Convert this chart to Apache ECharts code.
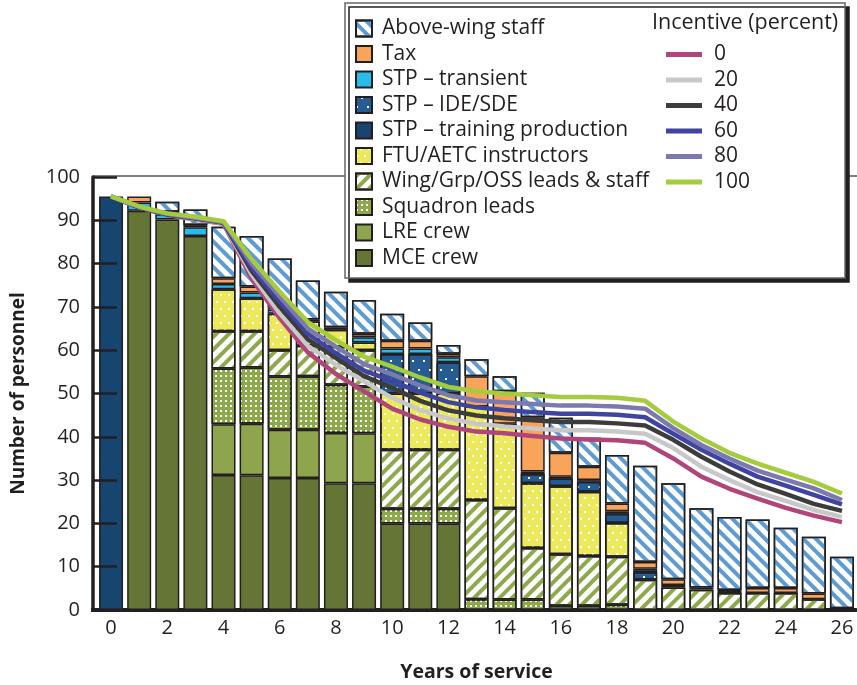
<!DOCTYPE html>
<html><head><meta charset="utf-8">
<script src="https://cdn.jsdelivr.net/npm/echarts@6/dist/echarts.min.js"></script>
<style>html,body{margin:0;padding:0;background:#fff}#c{width:857px;height:685px}</style>
</head><body><div id="c"></div>
<script>
// ---- data ----
const years = ['0','1','2','3','4','5','6','7','8','9','10','11','12','13','14','15','16','17','18','19','20','21','22','23','24','25','26'];
// stacked categories, bottom to top
const mceCrew      = [0, 92.2, 90.2, 86.4, 31.2, 31.1, 30.5, 30.5, 29.3, 29.3, 20.0, 20.0, 20.0, 0, 0, 0, 0, 0, 0, 0, 0, 0, 0, 0, 0, 0, 0];
const lreCrew      = [0, 0, 0, 0, 11.7, 11.9, 11.1, 11.1, 11.6, 11.5, 0, 0, 0, 0, 0, 0, 0, 0, 0, 0, 0, 0, 0, 0, 0, 0, 0];
const sqnLeads     = [0, 0, 0, 0, 12.9, 13.0, 12.3, 12.4, 11.1, 10.8, 3.4, 3.4, 3.4, 2.5, 2.4, 2.4, 1.0, 1.0, 1.2, 0, 0, 0, 0, 0, 0, 0, 0];
const wingStaff    = [0, 0, 0, 0, 8.6, 8.4, 6.1, 7.0, 8.8, 8.4, 13.6, 13.6, 13.6, 22.9, 21.1, 11.9, 11.9, 11.5, 11.1, 7.0, 5.2, 4.7, 3.9, 3.9, 3.9, 2.5, 0.4];
const ftuAetc      = [0, 0, 0, 0, 9.7, 7.6, 8.4, 5.6, 3.9, 1.8, 13.0, 13.0, 13.0, 21.6, 19.5, 15.0, 15.7, 14.8, 7.8, 0, 0, 0, 0, 0, 0, 0, 0];
const stpTraining  = [95.5, 0, 0, 0, 0, 0, 0, 0, 0, 0, 0, 0, 0, 0, 0, 0, 0, 0, 0, 0, 0, 0, 0, 0, 0, 0, 0];
const stpIdeSde    = [0, 0, 0, 0, 0, 0, 0, 0, 0, 0, 9.1, 9.1, 7.2, 0, 0, 2.1, 1.8, 2.3, 2.1, 1.8, 0, 0, 0, 0, 0, 0, 0];
const stpTransient = [0, 1.9, 1.2, 2.0, 1.2, 1.3, 1.0, 0, 0, 1.2, 1.3, 1.3, 1.2, 0, 0, 0.6, 0.4, 0.4, 0.6, 0.7, 0.6, 0.5, 0, 0, 0, 0, 0];
const tax          = [0, 1.4, 0.6, 0.5, 1.3, 1.4, 0.5, 0.5, 0.6, 0.8, 1.8, 1.8, 0.8, 7.0, 7.5, 12.5, 5.5, 3.1, 1.8, 1.6, 1.3, 0, 0.7, 1.2, 1.2, 1.3, 0];
const aboveWing    = [0, 0, 2.3, 3.6, 11.9, 11.7, 11.3, 9.0, 8.2, 7.8, 6.2, 4.2, 2.0, 3.9, 3.5, 5.7, 8.1, 6.7, 11.2, 22.2, 22.2, 18.3, 16.9, 15.8, 13.9, 13.1, 11.9];
// incentive lines
const inc0   = [95.5, 93.0, 91.2, 90.2, 89.2, 76.5, 67.4, 59.5, 54.5, 50.5, 46.5, 44.0, 42.3, 41.2, 40.8, 40.2, 39.6, 39.4, 39.2, 38.6, 35.0, 30.8, 28.0, 25.7, 23.6, 21.8, 20.3];
const inc20  = [95.5, 93.0, 91.3, 90.3, 89.3, 77.5, 68.5, 61.0, 56.6, 52.8, 49.0, 46.2, 44.2, 43.0, 42.4, 41.9, 41.5, 41.5, 41.2, 40.7, 37.4, 33.1, 30.0, 27.2, 25.2, 23.1, 21.5];
const inc40  = [95.5, 93.0, 91.3, 90.4, 89.4, 78.3, 70.0, 62.5, 58.2, 54.0, 51.3, 48.3, 46.1, 44.9, 44.3, 43.8, 43.4, 43.4, 43.1, 42.6, 39.3, 35.4, 32.0, 29.0, 26.8, 24.5, 22.9];
const inc60  = [95.5, 93.0, 91.4, 90.5, 89.5, 79.0, 71.2, 63.8, 59.3, 55.3, 52.9, 50.2, 48.0, 46.8, 46.2, 45.7, 45.3, 45.3, 45.1, 44.5, 40.7, 37.0, 33.8, 30.8, 28.7, 26.6, 24.4];
const inc80  = [95.5, 93.1, 91.5, 90.6, 89.6, 80.0, 72.4, 65.0, 60.8, 56.8, 54.4, 51.8, 49.6, 48.4, 48.0, 47.6, 47.2, 47.2, 47.0, 46.5, 42.0, 38.1, 35.0, 32.2, 30.1, 28.1, 25.4];
const inc100 = [95.5, 93.2, 91.6, 90.8, 89.8, 81.0, 73.5, 66.5, 62.3, 58.5, 56.2, 53.7, 51.5, 50.5, 50.0, 49.6, 49.2, 49.2, 49.0, 48.3, 43.5, 39.6, 36.3, 33.8, 31.7, 29.6, 26.9];

const barNames = ['MCE crew','LRE crew','Squadron leads','Wing/Grp/OSS leads & staff','FTU/AETC instructors','STP – training production','STP – IDE/SDE','STP – transient','Tax','Above-wing staff'];
const lineNames = ['0','20','40','60','80','100'];

// ---- styles ----
const FONT = 'Open Sans';
const INK = '#231f20';
const barStyles = [
  {color:'#657535'},
  {color:'#8ea44d'},
  {color:'#8ea84c', decal:{symbol:'rect', symbolSize:1, color:'#ffffff', dashArrayX:[2,3], dashArrayY:[2,3]}},
  {color:'#ffffff', decal:{symbol:'rect', symbolSize:1, color:'#8ea84c', dashArrayX:[1,0], dashArrayY:[4,5], rotation:-Math.PI/4}},
  {color:'#ece95c', decal:{symbol:'rect', symbolSize:1, color:'#ffffff', dashArrayX:[[2,6],[0,4,2,2]], dashArrayY:[2,5]}},
  {color:'#164570'},
  {color:'#255c93', decal:{symbol:'rect', symbolSize:1, color:'#ffffff', dashArrayX:[[2,9],[0,5,2,4]], dashArrayY:[2,7]}},
  {color:'#2abbe8'},
  {color:'#f8a55b'},
  {color:'#ffffff', decal:{symbol:'rect', symbolSize:1, color:'#5d9bd1', dashArrayX:[1,0], dashArrayY:[4,5], rotation:Math.PI/4}}
];
const lineColors = ['#b0457a','#c8c8c8','#3c3c3c','#3f44a0','#7b79b0','#a4cc3c'];
const barData = [mceCrew, lreCrew, sqnLeads, wingStaff, ftuAetc, stpTraining, stpIdeSde, stpTransient, tax, aboveWing];
const lineData = [inc0, inc20, inc40, inc60, inc80, inc100];

const series = [];
barData.forEach((arr, i) => {
  const st = barStyles[i];
  const itemStyle = {color: st.color, borderColor: INK, borderWidth: 1.5};
  if (st.decal) itemStyle.decal = st.decal;
  series.push({
    name: barNames[i], type:'bar', stack:'total', barWidth: 24,
    data: arr.map(v => v === 0 ? '-' : v),
    itemStyle: itemStyle, z: 2
  });
});
lineData.forEach((arr, i) => {
  series.push({
    name: lineNames[i], type:'line', data: arr, symbol:'none', showSymbol:false,
    lineStyle:{color: lineColors[i], width: 4.5}, itemStyle:{color: lineColors[i]}, z: 5
  });
});

const chart = echarts.init(document.getElementById('c'), null, {renderer:'canvas'});
chart.setOption({
  animation: false,
  textStyle: {fontFamily: FONT},
  grid: {left: 97, right: 1, top: 177, bottom: 75, outerBoundsMode: 'none', containLabel: false},
  xAxis: {
    type:'category', data: years,
    name:'Years of service', nameLocation:'middle', nameGap: 52,
    nameTextStyle:{fontSize:19.5, fontWeight:'bold', color:INK, fontFamily: FONT},
    axisLine:{lineStyle:{color:INK, width:4}},
    axisTick:{show:false},
    axisLabel:{interval:1, fontSize:20, color:INK, margin:8, fontFamily: FONT}
  },
  yAxis: {
    type:'value', min:0, max:100, interval:10, offset:4,
    name:'Number of personnel', nameLocation:'middle', nameGap: 65,
    nameTextStyle:{fontSize:19, fontWeight:'bold', color:INK, fontFamily: FONT},
    axisLine:{show:true, lineStyle:{color:INK, width:3.5}},
    axisTick:{show:true, inside:true, length:24, lineStyle:{color:INK, width:2.5}},
    splitLine:{show:false},
    axisLabel:{fontSize:20, color:INK, margin:13, fontFamily: FONT},
    z: 10
  },
  legend: [{
    data: barNames.slice().reverse(),
    orient:'vertical', left:355, top:18, padding:0, itemWidth:16, itemHeight:16, itemGap:4.5,
    icon:'rect',
    textStyle:{fontSize:21, color:INK, lineHeight:20, padding:[0,0,0,5], fontFamily: FONT},
    z: 60
  }, {
    data: lineNames,
    orient:'vertical', left:666, top:44, padding:0, itemWidth:36, itemHeight:5, itemGap:4.5,
    icon:'rect',
    textStyle:{fontSize:21, color:INK, lineHeight:20, padding:[0,0,0,7], fontFamily: FONT},
    z: 60
  }],
  graphic: [
    {type:'line', z:1, shape:{x1:93, y1:176, x2:857, y2:176}, style:{stroke:'#808080', lineWidth:2}},
    {type:'line', z:1, shape:{x1:91, y1:610, x2:99, y2:610}, style:{stroke:INK, lineWidth:4}},
    {type:'rect', z:50, shape:{x:345, y:3, width:500, height:275},
     style:{fill:'#ffffff', stroke:'#666666', lineWidth:1.5, shadowColor:'#231f20', shadowOffsetX:4, shadowOffsetY:4, shadowBlur:0}},
    {type:'text', z:55, left:652, top:12, style:{text:'Incentive (percent)', fontSize:21.5, fontFamily: FONT, fill:INK}}
  ],
  series: series
});
</script></body></html>
